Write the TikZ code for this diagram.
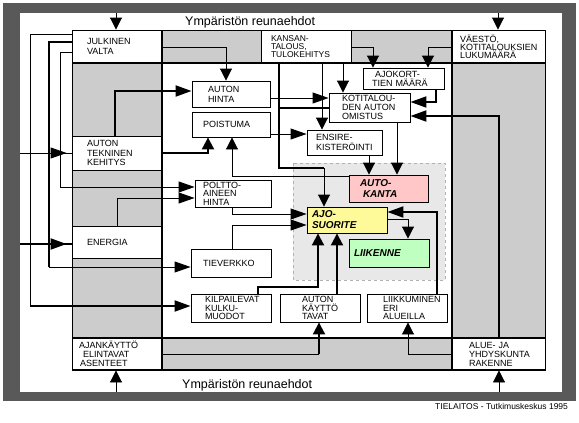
\documentclass[tikz,border=0pt]{standalone}
\usepackage{fontspec}
\setmainfont{Liberation Sans}
\usetikzlibrary{arrows.meta}
\tikzset{
  box/.style n args={4}{draw, line width=0.9pt, fill=white, inner ysep=0pt, inner xsep=#3pt,
     minimum width=#1pt, minimum height=#2pt, text width=#4pt, align=left,
     font=\fontsize{9}{9}\selectfont},
  bi/.style={font=\fontsize{10}{10.5}\selectfont\bfseries\itshape},
  varr/.style={-{Triangle[length=12pt,width=12pt]}},
  harr/.style={-{Triangle[length=16pt,width=11pt]}},
  thn/.style={line width=0.9pt},
  thk/.style={line width=2pt},
  dotf/.style={fill=black!20},
  lbl/.style={inner sep=0pt, anchor=base west}
}
\begin{document}
\begin{tikzpicture}[x=1pt,y=-1pt]
\useasboundingbox (0,0) rectangle (579,423);
% outer dithered border
\fill[black!65] (3,3) rectangle (576,401);
\fill[white] (20,13) rectangle (562,392);
% frame
\fill[dotf] (72,30) rectangle (545,370);
\fill[white] (162,63) rectangle (452,338);
% traffic area
\draw[dashed, gray!60, fill=black!9, line width=0.7pt] (293,163) rectangle (445,280);

% boxes
\node[box={90}{33}{15}{60}, font=\fontsize{9}{10}\selectfont] (julk) at (117,46.5) {JULKINEN\\VALTA};
\node[box={90}{33}{10}{70}, font=\fontsize{8.5}{7.6}\selectfont] (kans) at (306,46.5) {KANSAN-\\TALOUS,\\TULOKEHITYS};
\node[box={93}{33}{8}{77}, font=\fontsize{9}{8.2}\selectfont] (vaes) at (498.5,46.5) {VÄESTÖ,\\KOTITALOUKSIEN\\LUKUMÄÄRÄ};
\node[box={90}{34}{15}{60}, font=\fontsize{9}{9.5}\selectfont] (tekn) at (117,153) {AUTON\\TEKNINEN\\KEHITYS};
\node[box={90}{32}{15}{60}] (ener) at (117,242) {ENERGIA};
\node[box={90}{32}{7}{76}] (ajan) at (117,354) {AJANKÄYTTÖ\\\hspace*{4pt}ELINTAVAT\\\hspace*{1pt}ASENTEET};
\node[box={93}{32}{17}{59}] (alue) at (498.5,354) {ALUE- JA\\YHDYSKUNTA\\RAKENNE};
\node[box={78}{26}{16}{46}, font=\fontsize{9}{10}\selectfont] (hinta) at (231,94) {AUTON\\HINTA};
\node[box={78}{25}{11}{56}] (pois) at (231,124.5) {POISTUMA};
\node[box={81}{29}{13}{55}, font=\fontsize{9}{8.6}\selectfont] (koti) at (369.5,107.5) {KOTITALOU-\\DEN AUTON\\OMISTUS};
\node[box={81}{21}{9}{63}] (ajok) at (403.5,78.5) {\hspace*{3pt}AJOKORT-\\TIEN MÄÄRÄ};
\node[box={75}{25}{9}{57}, font=\fontsize{9}{10}\selectfont] (ensi) at (344.5,142.5) {ENSIRE-\\KISTERÖINTI};
\node[box={76}{27}{8}{60}, font=\fontsize{9}{8.5}\selectfont] (polt) at (233,193.5) {POLTTO-\\AINEEN\\HINTA};
\node[box={80}{28}{12}{56}] (tiev) at (231,263) {TIEVERKKO};
\node[box={80}{28}{14}{52}, font=\fontsize{9}{8.6}\selectfont] (kilp) at (231,308) {KILPAILEVAT\\KULKU-\\MUODOT};
\node[box={80}{28}{22}{36}, font=\fontsize{9}{8.8}\selectfont] (kayt) at (320,308) {AUTON\\KÄYTTÖ\\TAVAT};
\node[box={80}{28}{16}{48}, font=\fontsize{9}{8.6}\selectfont] (liik) at (407,308) {LIIKKUMINEN\\ERI\\ALUEILLA};
\node[box={79}{27}{11}{57}, fill=red!22, bi] (akan) at (388.5,188.5) {AUTO-\\\hspace*{3pt}KANTA};
\node[box={80}{26}{5}{70}, fill=yellow!40, font=\fontsize{10}{11}\selectfont\bfseries\itshape] (ajos) at (347,220) {AJO-\\SUORITE};
\node[box={80}{28}{5}{70}, fill=green!25, bi] (lnne) at (389,253) {LIIKENNE};

% structure lines
\draw[thn] (72,30) rectangle (545,370);
\draw[line width=1.6pt] (162,30) -- (162,370);
\draw[line width=1.2pt] (452,30) -- (452,370);
\draw[line width=1.6pt] (72,63) -- (545,63);
\draw[line width=1.6pt] (72,338) -- (545,338);
\draw[line width=1.6pt] (72,370) -- (545,370);

% border anchors
\coordinate (tb1) at (116,13);
\coordinate (tb2) at (498,13);
\coordinate (bb1) at (116,392);
\coordinate (bb2) at (499,392);
\coordinate (lb1) at (20,153);
\coordinate (lb2) at (20,244);

\draw[thn,varr] (tb1) -- (julk.north -| tb1);
\draw[thn,varr] (tb2) -- (vaes.north -| tb2);
\draw[thn,varr] (bb1) -- (ajan.south -| bb1);
\draw[thn,varr] (bb2) -- (alue.south -| bb2);
\draw[thn] (lb1) -- (tekn.west |- lb1);
\draw[thn,harr,shorten >=5pt] (lb1) -- (tekn.west |- lb1);
\draw[thk] (lb2) -- (ener.west |- lb2);
\draw[thk,harr,shorten >=5pt] (lb2) -- (ener.west |- lb2);

% julkinen valta
\draw[thn] (julk.west |- 0,34) -- (30,34) -- (30,306);
\draw[thk,harr] (30,306) -- (kilp.west |- 0,306);
\draw[thk] (julk.west |- 0,42) -- (49,42) -- (49,267);
\draw[thn,harr] (49,267) -- (tiev.west |- 0,267);
\draw[thn,harr] (julk.west |- 0,52) -- (60,52) -- (60,187) -- (polt.west |- 0,187);
\draw[thn,varr] (julk.east |- 0,47) -| (hinta.north -| 226,0);

% tekninen kehitys, energia
\draw[thk,harr] (tekn.north -| 115,0) |- (hinta.west |- 0,91);
\draw[thk,varr] (tekn.east |- 0,153) -| (pois.south -| 208,0);
\draw[thn,harr] (ener.north -| 117,0) |- (polt.west |- 0,198);

% autokanta -> poistuma
\draw[thn,varr] (akan.west |- 0,176) -| (pois.south -| 232,0);
\draw[thn,harr] (pois.east |- 0,134) -- (ensi.west |- 0,134);
\draw[thn,harr] (hinta.east |- 0,98) -- (koti.west |- 0,98);

% kansantalous
\draw[thk] (kans.south -| 279,0) |- (324,168);
\draw[thn,varr] (324,168) -- (ajos.north -| 324,0);
\draw[thk] (279,108) -- (koti.west |- 0,108);
\draw[thn,varr] (kans.south -| 322,0) -- (ensi.north -| 322,0);
\draw[thn,varr] (kans.south -| 343,0) -- (koti.north -| 343,0);
\draw[thn,varr] (kans.east |- 0,47) -| (ajok.north -| 373,0);
\draw[thn,varr] (vaes.west |- 0,47) -| (ajok.north -| 428,0);
\draw[thk,harr] (ajok.south -| 436,0) |- (koti.east |- 0,102);
\draw[thk,harr] (alue.north -| 499,0) |- (koti.east |- 0,116);
\draw[thn,varr] (koti.south -| 397,0) -- (akan.north -| 397,0);
\draw[thn,varr] (ensi.south -| 369,0) -- (akan.north -| 369,0);

% ajosuorite inputs
\draw[thn,harr] (polt.south -| 232,0) |- (ajos.west |- 0,214);
\draw[thn,harr] (tiev.north -| 232,0) |- (ajos.west |- 0,225);
\draw[thk,varr] (kilp.north -| 258,0) |- (318,287) -- (ajos.south -| 318,0);
\draw[thk,varr] (kayt.north -| 337,0) -- (ajos.south -| 337,0);
\draw[thk,harr] (liik.north -| 437,0) |- (ajos.east |- 0,212);
\draw[thn,varr] (ajos.east |- 0,219) -| (lnne.north -| 408,0);

% bottom row
\draw[thn] (ajan.east |- 0,354) -- (319,354);
\draw[thk,varr] (319,354) -- (kayt.south -| 319,0);
\draw[thn,varr] (alue.west |- 0,354) -| (liik.south -| 408,0);

% texts
\node[lbl, font=\fontsize{12.5}{12.5}\selectfont] (envt) at (185,25) {Ympäristön reunaehdot};
\node[lbl, font=\fontsize{12.5}{12.5}\selectfont] (envb) at (182,388) {Ympäristön reunaehdot};
\node[lbl, font=\fontsize{8.5}{8.5}\selectfont] (foot) at (435,409) {TIELAITOS - Tutkimuskeskus 1995};
\end{tikzpicture}
\end{document}
